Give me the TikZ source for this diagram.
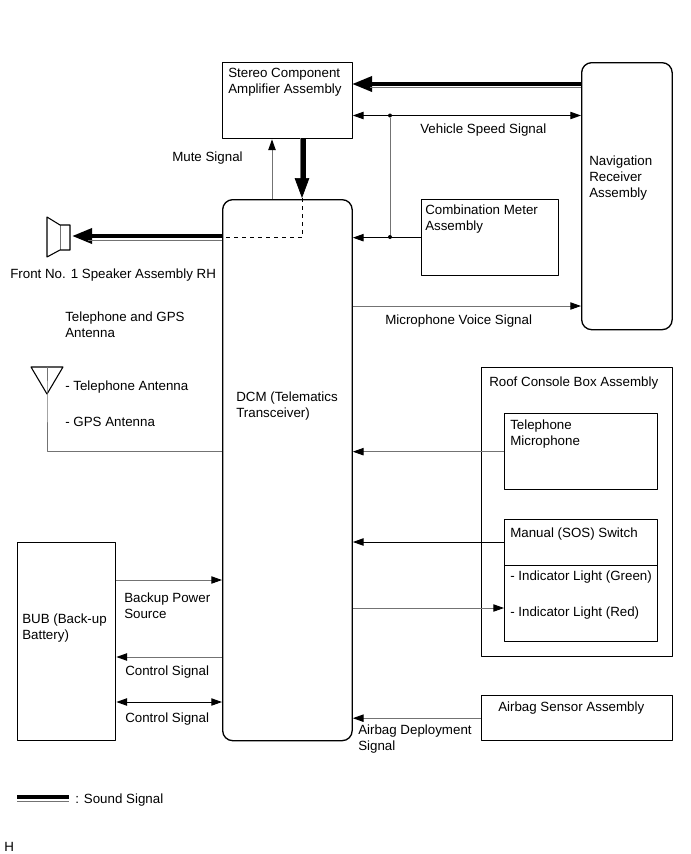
\documentclass[tikz,border=0pt]{standalone}
\usepackage{fontspec}
\setmainfont{Liberation Sans}
\usetikzlibrary{arrows.meta}
\tikzset{
	box/.style args={#1 by #2}{draw, line width=1pt, anchor=north west, inner sep=0pt, minimum width=#1*0.75pt, minimum height=#2*0.75pt},
	rbox/.style args={#1 by #2}{box={#1 by #2}, rounded corners=7.5pt},
	txt/.style={anchor=north west, inner sep=0pt, align=left},
	sig/.style={line width=0.7pt, black!55},
	blacksig/.style={line width=0.7pt, black},
	soundthick/.style={line width=3.2pt},
	soundthin/.style={line width=0.7pt, black!55},
	dot/.style={circle, fill, inner sep=0pt, minimum size=3pt},
	bigtip/.style={-{Stealth[length=15pt,width=11pt,inset=0pt]}},
}
\begin{document}
\begin{tikzpicture}[x=0.75pt, y=-0.75pt, font=\fontsize{10}{12}\selectfont, line join=round, >={Stealth[length=8pt,width=5.5pt,inset=0pt,black]}]
		\useasboundingbox (0,0) rectangle (691,854);
		\node[box={129.5 by 76}] (amp) at (222,62) {};
		\node[rbox={90.5 by 267}] (nav) at (581,62) {};
		\node[rbox={129.5 by 541}] (dcm) at (222,199) {};
		\node[box={136.5 by 76}] (meter) at (421,199) {};
		\node[box={190.5 by 289}] (roof) at (481,367) {};
		\node[box={152.5 by 76}] (mic) at (504,413) {};
		\node[box={152.5 by 46}] (sos) at (504,519) {};
		\node[box={152.5 by 76}] (light) at (504,565) {};
		\node[box={190.5 by 45}] (airbag) at (481,695) {};
		\node[box={98 by 198}] (bub) at (17,542) {};

		\node[txt] (amptxt) at (228,68) {Stereo Component\\Amplifier Assembly};
		\node[txt] (navtxt) at (589,156) {Navigation\\Receiver\\Assembly};
		\node[txt] (dcmtxt) at (236,392) {DCM (Telematics\\Transceiver)};
		\node[txt] (metertxt) at (425,205) {Combination Meter\\Assembly};
		\node[txt] (rooftxt) at (489,377) {Roof Console Box Assembly};
		\node[txt] (mictxt) at (510,420) {Telephone\\Microphone};
		\node[txt] (sostxt) at (510,528) {Manual (SOS) Switch};
		\node[txt] (greentxt) at (510,571) {- Indicator Light (Green)};
		\node[txt] (redtxt) at (510,607) {- Indicator Light (Red)};
		\node[txt] (airbagtxt) at (498,702) {Airbag Sensor Assembly};
		\node[txt] (bubtxt) at (22,614) {BUB (Back-up\\Battery)};
		\node[txt] (mutetxt) at (172,152) {Mute Signal};
		\node[txt] (speedtxt) at (420,124) {Vehicle Speed Signal};
		\node[txt] (voicetxt) at (385,315) {Microphone Voice Signal};
		\node[txt] (spktxt) at (10,269) {Front No. 1 Speaker Assembly RH};
		\node[txt] (anttxt) at (65,312) {Telephone and GPS\\Antenna};
		\node[txt] (teltxt) at (65,381) {- Telephone Antenna};
		\node[txt] (gpstxt) at (65,417) {- GPS Antenna};
		\node[txt] (backuptxt) at (124,593) {Backup Power\\Source};
		\node[txt] (ctrlatxt) at (125,666) {Control Signal};
		\node[txt] (ctrlbtxt) at (125,713) {Control Signal};
		\node[txt] (deploytxt) at (358,725) {Airbag Deployment\\Signal};
		\node[txt] (soundtxt) at (75,794) {: Sound Signal};
		\node[txt] (htxt) at (4,842) {H};

		\coordinate (speedy) at (0,115.5);
		\coordinate (voicey) at (0,306);
		\coordinate (sosy) at (0,542);
		\coordinate (redy) at (0,608);
		\coordinate (powery) at (0,580);
		\coordinate (ctrlay) at (0,657);
		\coordinate (ctrlby) at (0,702);
		\coordinate (mutex) at (272,0);

		\node[dot] (speeddot) at (390,115.5) {};
		\node[dot] (meterdot) at (390,237) {};
		\draw[blacksig,<->] (amp.east |- speedy) -- (nav.west |- speedy);
		\draw[sig] (speeddot) -- (meterdot);
		\draw[blacksig,->] (meter.west) -- (dcm.east |- meter.west);
		\draw[sig,->] (mutex |- dcm.north) -- (mutex |- amp.south);
		\draw[sig,->] (dcm.east |- voicey) -- (nav.west |- voicey);
		\draw[sig,->] (mic.west) -- (dcm.east |- mic.west);
		\draw[blacksig,->] (sos.west |- sosy) -- (dcm.east |- sosy);
		\draw[sig,->] (dcm.east |- redy) -- (light.west |- redy);
		\draw[sig,->] (airbag.west) -- (dcm.east |- airbag.west);
		\draw[sig,->] (bub.east |- powery) -- (dcm.west |- powery);
		\draw[sig,->] (dcm.west |- ctrlay) -- (bub.east |- ctrlay);
		\draw[blacksig,<->] (bub.east |- ctrlby) -- (dcm.west |- ctrlby);

		\coordinate (antop) at (47,367);
		\coordinate (antend) at (47,394);
		\draw[line width=0.8pt] (31,367) -- (63,367) -- (antend) -- cycle;
		\draw[sig] (antop) -- (antend) |- (dcm.west |- mic.west);

		\coordinate (navin) at (581,84);
		\coordinate (ampin) at (352,84);
		\draw[soundthick,bigtip] (navin) -- (ampin);
		\draw[soundthin] (nav.west |- 0,87.5) -- (370,87.5);
		\coordinate (dcmin) at (303.5,198);
		\draw[soundthick] (amp.south -| dcmin) -- (303.5,180);
		\draw[soundthin] (300.3,138) -- (300.3,180);
		\draw[bigtip,line width=0.5pt] (302,178) -- (302,198);
		\coordinate (spkin) at (72,236);
		\draw[soundthick,bigtip] (dcm.west |- spkin) -- (spkin);
		\draw[soundthin] (dcm.west |- 0,240) -- (88,240);
		\draw[dashed,line width=0.7pt] (302,198) -- (302,237.5) -- (dcm.west |- 0,237.5);

		\draw[sig] (60,225) -- (60,250);
		\draw[line width=0.8pt] (60,225) -- (70,225) -- (70,250) -- (60,250) -- (47,257) -- (47,217) -- cycle;

		\coordinate (legenda) at (17,797);
		\coordinate (legendb) at (69,797);
		\draw[soundthick] (legenda) -- (legendb);
		\draw[soundthin] (17,801) -- (69,801);
\end{tikzpicture}
\end{document}
